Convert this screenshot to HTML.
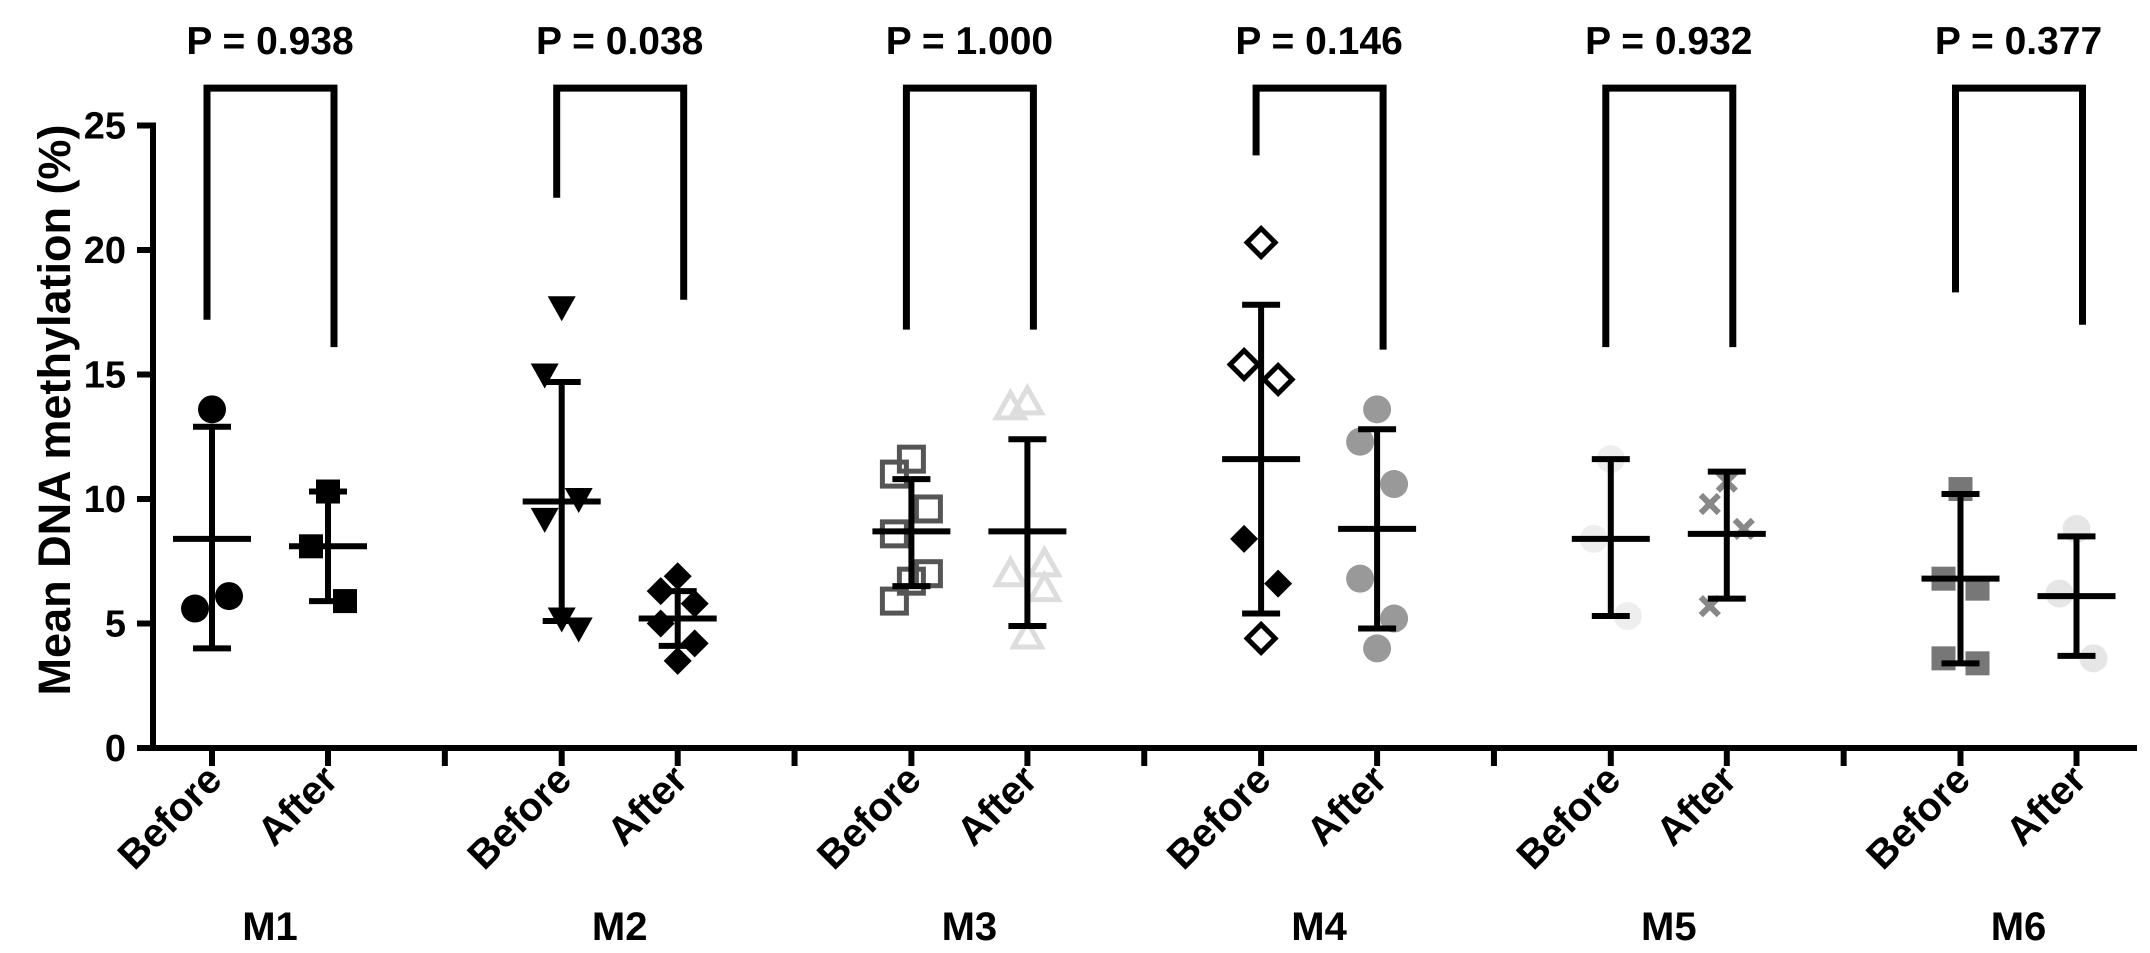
<!DOCTYPE html>
<html><head><meta charset="utf-8"><style>
html,body{margin:0;padding:0;background:#fff;}
svg{display:block;font-family:"Liberation Sans",Arial,sans-serif;font-weight:bold;}
</style></head><body>
<svg id="chart" width="2150" height="953" viewBox="0 0 2150 953"></svg>
<script>
const groups = ["M1","M2","M3","M4","M5","M6"];
const pValues = ["P = 0.938","P = 0.038","P = 1.000","P = 0.146","P = 0.932","P = 0.377"];
const beforeVals = [
  [13.6,5.6,6.1],
  [17.7,15.0,10.0,9.2,4.8,5.2],
  [11.6,11.0,9.6,8.6,7.0,6.7,5.9],
  [20.3,15.4,14.8,8.4,6.6,4.4],
  [11.6,8.4,5.3],
  [10.4,6.8,6.4,3.6,3.4]
];
const afterVals = [
  [10.3,8.1,5.9],
  [6.9,6.3,5.8,5.0,4.2,3.5],
  [13.9,13.7,7.4,7.0,6.4,4.5],
  [13.6,12.3,10.6,6.8,5.2,4.0],
  [10.7,9.8,8.8,5.7],
  [8.8,6.2,3.6]
];
const beforeMean = [8.4,9.9,8.7,11.6,8.4,6.8];
const beforeHi = [12.9,14.7,10.8,17.8,11.6,10.2];
const beforeLo = [4.0,5.1,6.5,5.4,5.3,3.4];
const afterMean = [8.1,5.2,8.7,8.8,8.6,6.1];
const afterHi = [10.3,6.3,12.4,12.8,11.1,8.5];
const afterLo = [5.9,4.1,4.9,4.8,6.0,3.7];
const bracketLeft = [17.2,22.1,16.8,23.8,16.1,18.3];
const bracketRight = [16.1,18.0,16.8,16.0,16.1,17.0];
const yTicks = [0,5,10,15,20,25];

const svg = document.getElementById('chart');
const NS = 'http://www.w3.org/2000/svg';
const y = v => 748 - v*24.9;
const xBefore = i => 212 + 349.7*i;
const xAfter = i => xBefore(i) + 116;
function mk(tag, attrs, parent){
  const e = document.createElementNS(NS, tag);
  for (const k in attrs) e.setAttribute(k, attrs[k]);
  (parent||svg).appendChild(e);
  return e;
}
const ax = mk('g',{});


mk('line',{x1:153,y1:y(25)-3,x2:153,y2:751,stroke:'#000','stroke-width':6},ax);
mk('line',{x1:137,y1:748,x2:2137,y2:748,stroke:'#000','stroke-width':6},ax);
yTicks.forEach(t=>{
  mk('line',{x1:137,y1:y(t),x2:153,y2:y(t),stroke:'#000','stroke-width':6},ax);
  const tx = mk('text',{x:126,y:y(t)+13,'text-anchor':'end','font-size':38},ax);
  tx.textContent = t;
  
  
});
const yt = mk('text',{x:0,y:0,'text-anchor':'middle','font-size':45,transform:'translate(70,410) rotate(-90)'});
yt.textContent = 'Mean DNA methylation (%)';



const jit = [0,-17,17,-17,17,0,-17,17];
const styles = [
  ['circle','#000',true],['square','#000',true],
  ['tridown','#000',true],['diamond','#000',true],
  ['square','#555',false],['triup','#ddd',false],
  ['diamond','#000',false],['circle','#999',true],
  ['circle','#eee',true],['cross','#888',false],
  ['square','#777',true],['circle','#e6e6e6',true]
];
function marker(g, shape, color, filled, cx, cy){
  const s = 14;
  const a = filled ? {fill:color,stroke:'none'} : {fill:'none',stroke:color,'stroke-width':5};
  let e;
  if (shape==='circle') e = mk('circle',Object.assign({cx:cx,cy:cy,r:s},a),g);
  else if (shape==='square') e = mk('rect',Object.assign({x:cx-s+2,y:cy-s+2,width:2*s-4,height:2*s-4},a),g);
  else if (shape==='diamond') e = mk('polygon',Object.assign({points:`${cx},${cy-s} ${cx+s},${cy} ${cx},${cy+s} ${cx-s},${cy}`},a),g);
  else if (shape==='tridown') e = mk('polygon',Object.assign({points:`${cx-s},${cy-s+3} ${cx+s},${cy-s+3} ${cx},${cy+s}`},a),g);
  else if (shape==='triup') e = mk('polygon',Object.assign({points:`${cx-s},${cy+s-3} ${cx+s},${cy+s-3} ${cx},${cy-s}`},a),g);
  else if (shape==='cross'){ e = mk('path',{d:`M${cx-9} ${cy-9}L${cx+9} ${cy+9}M${cx+9} ${cy-9}L${cx-9} ${cy+9}`,stroke:color,'stroke-width':6},g); }
  
  
}
function series(i, which){
  const before = which===0;
  const vals = before ? beforeVals[i] : afterVals[i];
  const x = before ? xBefore(i) : xAfter(i);
  const st = styles[i*2+which];
  const g = mk('g',{});
  
  
  vals.forEach((v,k)=>{
    let filled = st[2];
    if (i===3 && before) filled = (k>=3 && k<5);
    marker(g, st[0], st[1], filled, x+jit[k%jit.length], y(v));
  });
  const m = before?beforeMean[i]:afterMean[i], hi = before?beforeHi[i]:afterHi[i], lo = before?beforeLo[i]:afterLo[i];
  const eb = mk('g',{stroke:'#000','stroke-width':6},g);
  
  
  mk('line',{x1:x,y1:y(hi),x2:x,y2:y(lo)},eb);
  mk('line',{x1:x-19,y1:y(hi),x2:x+19,y2:y(hi)},eb);
  mk('line',{x1:x-19,y1:y(lo),x2:x+19,y2:y(lo)},eb);
  const ml = mk('line',{x1:x-39,y1:y(m),x2:x+39,y2:y(m)},eb);
  
  
}
groups.forEach((gname,i)=>{
  const xb = xBefore(i), xa = xAfter(i);
  [xb,xa].forEach(tx=>mk('line',{x1:tx,y1:748,x2:tx,y2:766,stroke:'#000','stroke-width':6}));
  if (i<groups.length-1){ const sx=(xa+xBefore(i+1))/2; mk('line',{x1:sx,y1:748,x2:sx,y2:766,stroke:'#000','stroke-width':6}); }
  series(i,0); series(i,1);
  const br = mk('path',{d:`M${xb-5} ${y(bracketLeft[i])}L${xb-5} ${y(26.5)}L${xa+6} ${y(26.5)}L${xa+6} ${y(bracketRight[i])}`,fill:'none',stroke:'#000','stroke-width':7});
  
  
  const pt = mk('text',{x:(xb+xa)/2,y:54,'text-anchor':'middle','font-size':39});
  pt.textContent = pValues[i];
  
  
  const lb = mk('text',{x:0,y:0,'text-anchor':'end','font-size':40,transform:`translate(${xb+12},${782}) rotate(-45)`});
  lb.textContent = 'Before';
  
  
  const la = mk('text',{x:0,y:0,'text-anchor':'end','font-size':40,transform:`translate(${xa+12},${782}) rotate(-45)`});
  la.textContent = 'After';
  
  
  const gl = mk('text',{x:(xb+xa)/2,y:940,'text-anchor':'middle','font-size':40});
  gl.textContent = gname;
  
  
});
</script>
</body></html>
